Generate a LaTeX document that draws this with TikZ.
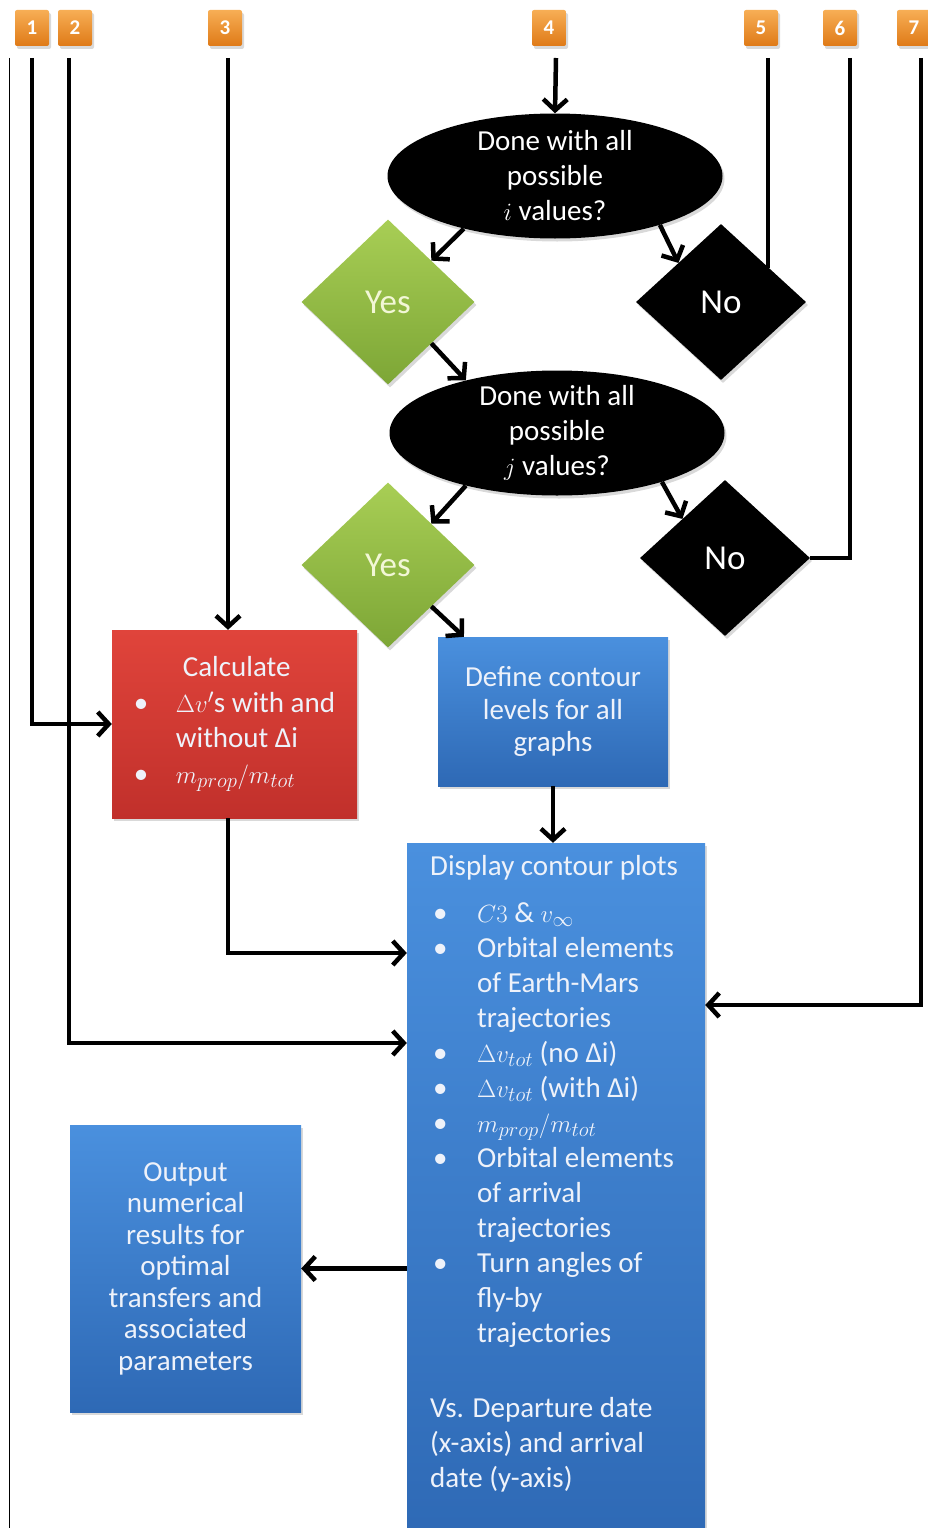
\documentclass[tikz,border=0pt]{standalone}
\usepackage{fontspec}
\setmainfont{Carlito}
\usetikzlibrary{shapes.geometric,arrows.meta,shadows}

\definecolor{numtop}{HTML}{F7AE55}
\definecolor{numbot}{HTML}{DF7A17}
\definecolor{redtop}{HTML}{E0443B}
\definecolor{redbot}{HTML}{C1302B}
\definecolor{bluetop}{HTML}{4A90DE}
\definecolor{bluebot}{HTML}{2E69B5}
\definecolor{greentop}{HTML}{A8CE55}
\definecolor{greenbot}{HTML}{7DA636}
\definecolor{paletext}{HTML}{EEF2FA}
\definecolor{yestext}{HTML}{F2F7D6}

\newcommand{\myblt}{\makebox[47pt][l]{\hspace{3pt}•}}
\newcommand{\myind}{\hspace*{47pt}}
\newcommand{\redblt}{\makebox[42pt][l]{•}}

\tikzset{
  shade/.style={drop shadow={shadow xshift=2pt,shadow yshift=-3pt,opacity=.3}},
  numbox/.style={rectangle, rounded corners=2pt, minimum width=34pt, minimum height=36pt,
    inner sep=0pt, top color=numtop, bottom color=numbot, text=white,
    font=\fontsize{21}{21}\selectfont\bfseries, shade},
  question/.style={ellipse, fill=black, text=white, minimum width=335pt, minimum height=125pt,
    inner xsep=0pt, inner ysep=-16pt, align=center, font=\fontsize{29}{35}\selectfont, shade},
  yesbox/.style={diamond, minimum width=173pt, minimum height=165pt, inner sep=0pt,
    top color=greentop, bottom color=greenbot, text=yestext,
    font=\fontsize{35}{40}\selectfont, shade},
  nobox/.style={diamond, minimum width=170pt, minimum height=156pt, inner sep=0pt,
    fill=black, text=white, font=\fontsize{35}{40}\selectfont, shade},
  calcbox/.style={rectangle, minimum width=245pt, minimum height=188pt, inner sep=0pt,
    top color=redtop, bottom color=redbot, text=paletext, align=left,
    font=\fontsize{29}{35.5}\selectfont, shade},
  bluebox/.style={rectangle, inner sep=0pt, top color=bluetop, bottom color=bluebot,
    text=paletext, align=center, shade},
  link/.style={line width=4.5pt},
  arr/.style={link, -{Straight Barb[length=11pt,width=24pt]}},
}

\begin{document}
\begin{tikzpicture}[x=1pt,y=-1pt]
    \useasboundingbox (0,0) rectangle (927,1528);

    \draw[thin] (9,58) -- (9,1528);

    % numbered inputs
    \node[numbox] (n1) at (32,28) {1};
    \node[numbox] (n2) at (75,28) {2};
    \node[numbox] (n3) at (225,28) {3};
    \node[numbox] (n4) at (549,28) {4};
    \node[numbox] (n5) at (761,28) {5};
    \node[numbox] (n6) at (840,28) {6};
    \node[numbox] (n7) at (914,28) {7};

    \coordinate (t1) at (32,58);
    \coordinate (t2) at (69,58);
    \coordinate (t3) at (228,58);
    \coordinate (t4) at (556,58);
    \coordinate (t5) at (768,58);
    \coordinate (t6) at (850,58);
    \coordinate (t7) at (921,58);

    % decisions
    \node[question] (e1) at (555,176) {Done with all\\possible\\$i$ values?};
    \node[yesbox] (yes1) at (388,302) {Yes};
    \node[nobox] (no1) at (721,302) {No};
    \node[question] (e2) at (557,433) {Done with all\\possible\\$j$ values?};
    \node[yesbox] (yes2) at (388,565) {Yes};
    \node[nobox] (no2) at (725,558) {No};

    % boxes
    \node[calcbox] (calc) at (234.5,724)
        {\hspace*{49pt}Calculate\\
         \redblt$\Delta v'$s with and\\
         \hspace*{42pt}without Δi\\
         \redblt$m_{prop}/m_{tot}$};
    \node[bluebox, minimum width=230pt, minimum height=149pt,
          font=\fontsize{29}{32.5}\selectfont] (def) at (553,711.5)
        {Define contour\\levels for all\\graphs};
    \node[bluebox, minimum width=298pt, minimum height=700pt] (disp) at (556,1193) {};
    \node[anchor=north west, inner sep=0pt, align=left, text=paletext,
          font=\fontsize{29}{35}\selectfont] (disptxt) at (430,855)
        {Display contour plots\\[12pt]
         \myblt$C3$ \& $v_{\infty}$\\
         \myblt Orbital elements\\
         \myind of Earth-Mars\\
         \myind trajectories\\
         \myblt$\Delta v_{tot}$ (no Δi)\\
         \myblt$\Delta v_{tot}$ (with Δi)\\
         \myblt$m_{prop}/m_{tot}$\\
         \myblt Orbital elements\\
         \myind of arrival\\
         \myind trajectories\\
         \myblt Turn angles of\\
         \myind fly-by\\
         \myind trajectories\\[40pt]
         Vs. Departure date\\
         (x-axis) and arrival\\
         date (y-axis)};
    \node[bluebox, minimum width=231pt, minimum height=287pt,
          font=\fontsize{29}{31.5}\selectfont] (out) at (185.5,1268.5)
        {Output\\numerical\\results for\\optimal\\transfers and\\associated\\parameters};

    % connectors
    \draw[arr] (t4) -- (e1.north);
    \draw[arr] (e1.210) -- (yes1.north east);
    \draw[arr] (e1.335) -- (no1.north west);
    \draw[arr] (yes1.south east) -- (e2.150);
    \draw[arr] (e2.210) -- (yes2.north east);
    \draw[arr] (e2.335) -- (no2.north west);
    \draw[arr] (yes2.south east) -- (def.140);
    \draw[arr] (def.south) -- (disp.north -| def.south);
    \draw[arr] (t1) |- (calc.west);
    \draw[arr] (t3) -- (calc.north -| t3);
    \draw[arr] (calc.south -| t3) |- (disp.west |- 0,953);
    \draw[arr] (t2) |- (disp.west |- 0,1043);
    \draw[arr] (t7) |- (disp.east |- 0,1005);
    \draw[arr] (disp.west |- out.east) -- (out.east);
    \draw[link] (t5) -- (t5 |- 0,268);
    \draw[link] (t6) |- (no2.east);

\end{tikzpicture}
\end{document}
